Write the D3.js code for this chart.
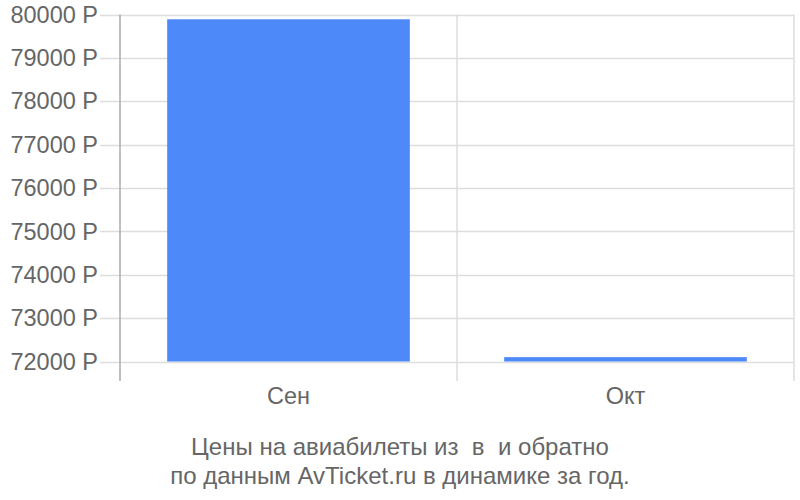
<!DOCTYPE html>
<html><head><meta charset="utf-8">
<script src="https://cdn.jsdelivr.net/npm/d3@7"></script>
<style>body{margin:0;background:#fff}text{font-family:"Liberation Sans",Arial,sans-serif}</style>
</head><body>
<svg id="c" width="800" height="500"></svg>
<script>
const categories = ["Сен", "Окт"];
const prices = [79890, 72100];
const yTicks = [72000, 73000, 74000, 75000, 76000, 77000, 78000, 79000, 80000];
const titleLines = ["Цены на авиабилеты из  в  и обратно", "по данным AvTicket.ru в динамике за год."];

const svg = d3.select("#c");
const mLeft = 120, mRight = 794, mTop = 14.5, mBottom = 361.5, axisBottom = 381;
const x = d3.scaleBand().domain(categories).range([mLeft, mRight]).paddingInner(0.28).paddingOuter(0.14);
const y = d3.scaleLinear().domain([72000, 80000]).range([mBottom, mTop]);

// horizontal gridlines
svg.append("g").selectAll("line").data(yTicks).join("line")
  .attr("x1", 100).attr("x2", mRight).attr("y1", d => Math.round(y(d)) + 0.5).attr("y2", d => Math.round(y(d)) + 0.5)
  .attr("stroke", "#dddddd").attr("stroke-width", 1.5);

// vertical gridlines at band boundaries
const bounds = categories.map(c => x(c) - x.step() * x.paddingInner() / 2 + x.step());
svg.append("g").selectAll("line").data(bounds).join("line")
  .attr("x1", d => d).attr("x2", d => d).attr("y1", mTop).attr("y2", axisBottom)
  .attr("stroke", "#dddddd").attr("stroke-width", 1.5);

// bars
svg.append("g").selectAll("rect").data(categories).join("rect")
  .attr("x", d => x(d)).attr("width", x.bandwidth())
  .attr("y", (d, i) => y(prices[i])).attr("height", (d, i) => y(72000) - y(prices[i]))
  .attr("fill", "#4d89f9");

// y axis line
svg.append("line").attr("x1", mLeft).attr("x2", mLeft).attr("y1", mTop).attr("y2", axisBottom)
  .attr("stroke", "#aaaaaa").attr("stroke-width", 1.5);

// y tick labels
svg.append("g").selectAll("text").data(yTicks).join("text")
  .attr("x", 98).attr("y", d => y(d)).attr("dy", "0.35em").attr("text-anchor", "end")
  .attr("font-size", 23.5).attr("fill", "#666666").text(d => d + " Р");

// x labels
svg.append("g").selectAll("text").data(categories).join("text")
  .attr("x", d => x(d) + x.bandwidth() / 2).attr("y", 404)
  .attr("text-anchor", "middle").attr("font-size", 23.5).attr("fill", "#666666").text(d => d);

// title
svg.append("g").selectAll("text").data(titleLines).join("text")
  .attr("x", 400).attr("y", (d, i) => 455 + i * 29).attr("text-anchor", "middle")
  .style("white-space", "pre").attr("font-size", 24).attr("fill", "#666666").text(d => d);
</script>
</body></html>
